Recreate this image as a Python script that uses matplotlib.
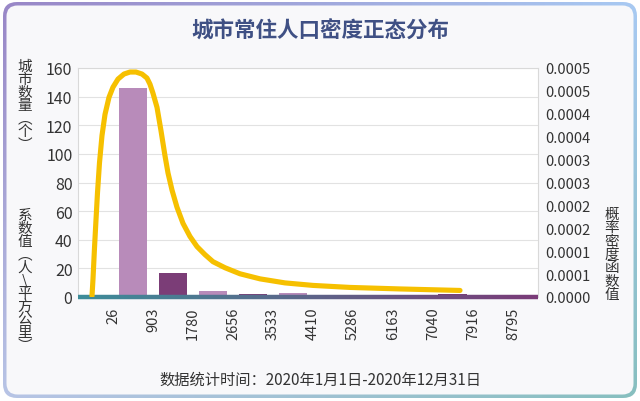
import numpy as np
import matplotlib
matplotlib.use('Agg')
import matplotlib.pyplot as plt
from matplotlib.patches import FancyBboxPatch
from matplotlib.collections import LineCollection

plt.rcParams['font.family'] = ['Noto Sans CJK SC', 'DejaVu Sans']

# 数据
bin_edges = [26, 903, 1780, 2656, 3533, 4410, 5286, 6163, 7040, 7916, 8795]
city_counts = [146, 17, 4, 2, 3, 0, 0, 0, 2, 0]
bar_colors = ['#b88bba', '#7b3d77', '#b88bba', '#7b3d77', '#b88bba',
              '#7b3d77', '#b88bba', '#7b3d77', '#7b3d77', '#b88bba']

# 概率密度曲线
curve_x = [-434, -412, -380, -347, -314, -270, -215, -149, -61, 26, 136, 267,
           399, 530, 662, 771, 837, 903, 991, 1078, 1166, 1232, 1320, 1429,
           1561, 1714, 1868, 2043, 2219, 2482, 2810, 3250, 3797, 4411, 5222,
           6318, 7634]
curve_y = [0.0000022, 0.0000396, 0.0001057, 0.0001674, 0.0002269, 0.0002929,
           0.0003524, 0.0003987, 0.0004361, 0.0004581, 0.0004758, 0.0004868,
           0.0004912, 0.0004912, 0.0004868, 0.0004780, 0.0004647, 0.0004449,
           0.0004141, 0.0003634, 0.0003084, 0.0002709, 0.0002335, 0.0001960,
           0.0001608, 0.0001322, 0.0001101, 0.0000925, 0.0000771, 0.0000639,
           0.0000507, 0.0000396, 0.0000308, 0.0000253, 0.0000209, 0.0000176,
           0.0000143]

left_ticks = [0, 20, 40, 60, 80, 100, 120, 140, 160]
right_ticks = [0, 0.00005, 0.0001, 0.00015, 0.0002, 0.00025,
               0.0003, 0.00035, 0.0004, 0.00045, 0.0005]
right_labels = ['0.0000', '0.0001', '0.0001', '0.0002', '0.0002', '0.0003',
                '0.0003', '0.0004', '0.0004', '0.0005', '0.0005']

fig = plt.figure(figsize=(6.4, 4.02), dpi=100)
fig.patch.set_facecolor('white')

# 背景卡片，边框渐变
bg = fig.add_axes([0, 0, 1, 1], zorder=-10)
bg.axis('off')
tl = np.array([0.60, 0.53, 0.78])
tr = np.array([0.66, 0.79, 0.95])
bl = np.array([0.72, 0.77, 0.90])
br = np.array([0.53, 0.75, 0.75])
u = np.linspace(0, 1, 64)[None, :, None]
v = np.linspace(0, 1, 40)[:, None, None]
grad = (1 - v) * ((1 - u) * tl + u * tr) + v * ((1 - u) * bl + u * br)
im = bg.imshow(grad, extent=(0, 640, 0, 402), origin='upper', aspect='auto',
               interpolation='bilinear')
bg.set_xlim(0, 640)
bg.set_ylim(0, 402)
outer = FancyBboxPatch((3, 3), 634, 396, boxstyle='round,pad=0,rounding_size=14',
                       transform=bg.transData, fc='none', ec='none')
bg.add_patch(outer)
im.set_clip_path(outer)
inner = FancyBboxPatch((6.5, 6.5), 627, 389, boxstyle='round,pad=0,rounding_size=11',
                       fc='#f8f8fa', ec='none')
bg.add_patch(inner)

ax = fig.add_axes([78 / 640, 104 / 402, 460 / 640, 229 / 402])
ax.set_facecolor('white')
centers = [(bin_edges[i] + bin_edges[i + 1]) / 2 for i in range(len(city_counts))]
ax.bar(centers, city_counts, width=632, color=bar_colors, zorder=3)
ax.set_xlim(-741, 9344)
ax.set_ylim(0, 160)
ax.set_yticks(left_ticks)
ax.set_xticks(bin_edges)
ax.set_xticklabels([str(e) for e in bin_edges], rotation=90, fontsize=10.5, color='#333333')
ax.tick_params(axis='y', length=0, pad=4, labelsize=11.5, labelcolor='#333333')
ax.tick_params(axis='x', length=0, pad=7)
ax.yaxis.grid(True, color='#e2e2e2', lw=0.8)
ax.set_axisbelow(True)
for s in ['left', 'top', 'right']:
    ax.spines[s].set_color('#d9d9d9')
    ax.spines[s].set_linewidth(0.8)
ax.spines['bottom'].set_visible(False)

# 底部渐变线
xs = np.linspace(0, 1, 120)
segs = [[(xs[i], 0), (xs[i + 1], 0)] for i in range(len(xs) - 1)]
c0 = np.array([0.24, 0.55, 0.60])
c1 = np.array([0.48, 0.23, 0.47])
cols = [tuple(c0 + (c1 - c0) * t) for t in xs[:-1]]
lc = LineCollection(segs, colors=cols, linewidths=3.2, transform=ax.transAxes,
                    clip_on=False, zorder=4)
ax.add_collection(lc)

ax2 = ax.twinx()
ax2.plot(curve_x, curve_y, color='#f6c000', lw=3.7, solid_capstyle='round',
         solid_joinstyle='round', zorder=5)
ax2.set_ylim(0, 0.0005)
ax2.set_yticks(right_ticks)
ax2.set_yticklabels(right_labels)
ax2.tick_params(axis='y', length=0, pad=5, labelsize=10.5, labelcolor='#333333')
for s in ax2.spines.values():
    s.set_visible(False)

# 标题与轴标题
fig.text(0.5, 0.922, '城市常住人口密度正态分布', ha='center', va='center',
         fontsize=15.5, fontweight='bold', color='#3f5084')
fig.text(25 / 640, 1 - 106 / 402, '\n'.join('城市数量︵个︶'), ha='center', va='center',
         fontsize=10.5, color='#333333', linespacing=0.92)
fig.text(25 / 640, 1 - 281 / 402, '\n'.join('系数值︵人\\平方公里︶'), ha='center', va='center',
         fontsize=10.5, color='#333333', linespacing=0.9)
fig.text(612 / 640, 1 - 255 / 402, '\n'.join('概率密度函数值'), ha='center', va='center',
         fontsize=10.5, color='#333333', linespacing=0.95)
fig.text(0.5, 0.055, '数据统计时间：2020年1月1日-2020年12月31日', ha='center', va='center',
         fontsize=11, color='#333333')

fig.savefig('out.png', dpi=100)
